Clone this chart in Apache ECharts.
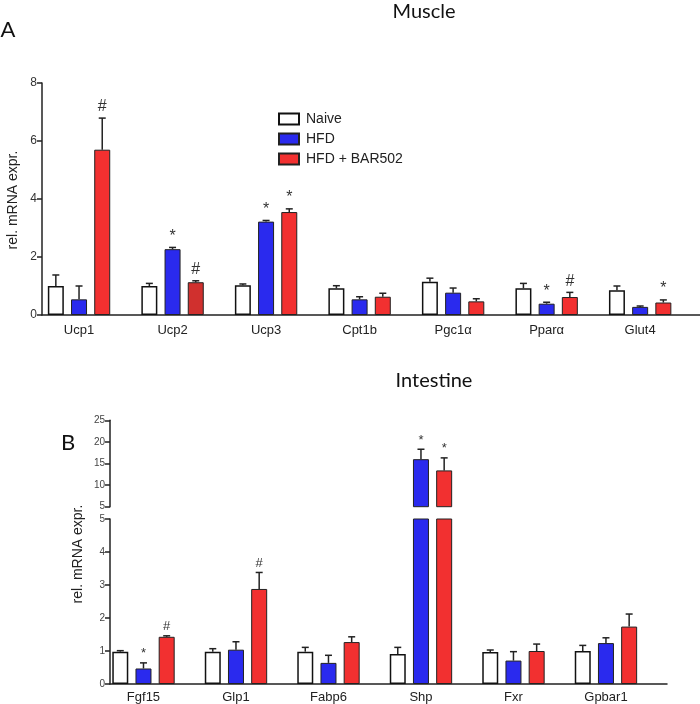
<!DOCTYPE html>
<html><head><meta charset="utf-8">
<script src="https://cdn.jsdelivr.net/npm/echarts@6/dist/echarts.min.js"></script>
<style>html,body{margin:0;padding:0;background:#fff}#c{width:700px;height:704px}</style>
</head><body><div id="c"></div>
<script>
// ---------- DATA ----------
const muscleGenes = ['Ucp1','Ucp2','Ucp3','Cpt1b','Pgc1α','Pparα','Glut4'];
const muscleNaive    = [1.00,1.00,1.03,0.92,1.15,0.92,0.85];
const muscleNaiveErr = [0.38,0.09,0.04,0.09,0.12,0.17,0.15];
const muscleHFD      = [0.54,2.27,3.22,0.54,0.77,0.39,0.28];
const muscleHFDErr   = [0.46,0.06,0.04,0.09,0.16,0.05,0.03];
const muscleBAR      = [5.70,1.13,3.55,0.63,0.47,0.62,0.43];
const muscleBARErr   = [1.09,0.05,0.11,0.12,0.09,0.16,0.09];
const muscleNaiveMarks = ['','','','','','',''];
const muscleHFDMarks = ['','*','*','','','*',''];
const muscleBARMarks = ['#','#','*','','','#','*'];

const intestineGenes = ['Fgf15','Glp1','Fabp6','Shp','Fxr','Gpbar1'];
const intNaive    = [0.98,0.98,0.98,0.91,0.97,1.00];
const intNaiveErr = [0.03,0.09,0.13,0.20,0.06,0.17];
const intHFD      = [0.47,1.04,0.64,16.0,0.71,1.24];
const intHFDErr   = [0.17,0.24,0.23,2.3,0.27,0.16];
const intBAR      = [1.43,2.88,1.27,13.4,1.00,1.74];
const intBARErr   = [0.03,0.50,0.16,2.9,0.21,0.38];
const intNaiveMarks = ['','','','','',''];
const intHFDMarks = ['*','','','*','',''];
const intBARMarks = ['#','#','','*','',''];

const seriesNames = ['Naive','HFD','HFD + BAR502'];
const muscleTicks = [0,2,4,6,8];
const intLowTicks = [0,1,2,3,4,5];
const intHighTicks = [5,10,15,20,25];

// ---------- STYLE ----------
const COLORS = ['#ffffff','#2a2aee','#f23030'];
const BORDERS = ['#111','#222','#222'];
const BW = 16, GAP = 7.2, OFFS = [-(BW+GAP), 0, BW+GAP];
const FONT = '"Liberation Sans", Arial, sans-serif';
const TITLEFONT = 'Lato, "Open Sans", sans-serif';
const BREAK = intHighTicks[0];

const chart = echarts.init(document.getElementById('c'), null, {renderer:'canvas'});

function barSeries(name, k, vals, xi, yi, filter, itemColors) {
  return {
    type:'bar', name, xAxisIndex:xi, yAxisIndex:yi, barWidth:BW, barGap:(GAP/BW*100)+'%',
    clip:true, animation:false,
    itemStyle:{color:COLORS[k], borderColor:BORDERS[k], borderWidth:k===0?1.5:1},
    data: vals.map((v,i)=> filter(v) ? (itemColors && itemColors[i] ? {value:[i,v], itemStyle:{color:itemColors[i]}} : [i,v]) : null).filter(d=>d!==null)
  };
}
function errSeries(k, vals, errs, marks, xi, yi, filter, fs, markGap) {
  return {
    type:'custom', xAxisIndex:xi, yAxisIndex:yi, clip:false, animation:false, silent:true, z:5,
    data: vals.map((v,i)=> filter(v) ? [i,v,errs[i]] : null).filter(d=>d!==null),
    renderItem(params, api){
      const i = api.value(0), v = api.value(1), e = api.value(2);
      const b = api.coord([i, v]); const t = api.coord([i, v+e]);
      const cx = b[0] + OFFS[k];
      const children = [
        {type:'line', shape:{x1:cx,y1:b[1],x2:cx,y2:t[1]}, style:{stroke:'#222', lineWidth:1.5}},
        {type:'line', shape:{x1:cx-3.5,y1:t[1],x2:cx+3.5,y2:t[1]}, style:{stroke:'#222', lineWidth:1.5}}
      ];
      const m = marks[i];
      if (m) children.push({type:'text', x:cx, y:t[1]-markGap, style:{text:m, align:'center', verticalAlign:'middle', fontSize:fs, fill:'#333', fontFamily:FONT}});
      return {type:'group', children};
    }
  };
}

const series = [];
const mVals = [muscleNaive, muscleHFD, muscleBAR];
const mErrs = [muscleNaiveErr, muscleHFDErr, muscleBARErr];
const mMarks = [muscleNaiveMarks, muscleHFDMarks, muscleBARMarks];
const iVals = [intNaive, intHFD, intBAR];
const iErrs = [intNaiveErr, intHFDErr, intBARErr];
const iMarks = [intNaiveMarks, intHFDMarks, intBARMarks];
const all = ()=>true;
const redShade = [null,'#d0302e',null,null,null,null,null];
for (let k=0;k<3;k++){
  series.push(barSeries(seriesNames[k], k, mVals[k], 0, 0, all, k===2?redShade:null));
  series.push(barSeries(seriesNames[k], k, iVals[k], 1, 1, all));
  series.push(barSeries(seriesNames[k], k, iVals[k], 2, 2, v=>v>BREAK));
}
for (let k=0;k<3;k++){
  series.push(errSeries(k, mVals[k], mErrs[k], mMarks[k], 0, 0, all, 16, 11));
  series.push(errSeries(k, iVals[k], iErrs[k], iMarks[k], 1, 1, v=>v<=BREAK, 13, 9));
  series.push(errSeries(k, iVals[k], iErrs[k], iMarks[k], 2, 2, v=>v>BREAK, 13, 9));
}

const axisLine = {show:true, onZero:false, lineStyle:{color:'#222', width:1.5}};
const yTick = {show:true, length:5, lineStyle:{color:'#222', width:1.5}};

const option = {
  animation:false,
  backgroundColor:'#fff',
  grid:[
    {left:42, right:0, top:83, height:232},
    {left:110, width:557, top:519, height:165.5},
    {left:110, width:557, top:420.3, height:86.4}
  ],
  xAxis:[
    {type:'value', gridIndex:0, min:-0.396, max:6.64, splitLine:{show:false}, axisTick:{show:false}, axisLine,
     axisLabel:{customValues:muscleGenes.map((g,i)=>i), formatter:v=>muscleGenes[Math.round(v)], color:'#222', fontSize:13, fontFamily:FONT, margin:9}},
    {type:'value', gridIndex:1, min:-0.362, max:5.66, splitLine:{show:false}, axisTick:{show:false}, axisLine,
     axisLabel:{customValues:intestineGenes.map((g,i)=>i), formatter:v=>intestineGenes[Math.round(v)], color:'#222', fontSize:13, fontFamily:FONT, margin:7}},
    {type:'value', gridIndex:2, min:-0.362, max:5.66, show:false}
  ],
  yAxis:[
    {type:'value', gridIndex:0, min:muscleTicks[0], max:muscleTicks[muscleTicks.length-1], interval:muscleTicks[1]-muscleTicks[0],
     splitLine:{show:false}, axisLine, axisTick:yTick, axisLabel:{color:'#333', fontSize:12, fontFamily:FONT, margin:5}},
    {type:'value', gridIndex:1, min:intLowTicks[0], max:intLowTicks[intLowTicks.length-1], interval:intLowTicks[1]-intLowTicks[0],
     splitLine:{show:false}, axisLine, axisTick:yTick, axisLabel:{color:'#444', fontSize:10, fontFamily:FONT, margin:5}},
    {type:'value', gridIndex:2, min:intHighTicks[0], max:intHighTicks[intHighTicks.length-1], interval:intHighTicks[1]-intHighTicks[0],
     splitLine:{show:false}, axisLine, axisTick:yTick, axisLabel:{color:'#444', fontSize:10, fontFamily:FONT, margin:5}}
  ],
  legend:{
    data:seriesNames, orient:'vertical', left:273, top:107, itemWidth:20, itemHeight:11, itemGap:6,
    icon:'rect', selectedMode:false,
    textStyle:{fontSize:14, lineHeight:14, color:'#222', fontFamily:FONT, padding:[0,0,0,2]}
  },
  graphic:[
    {type:'text', x:424, y:12, style:{text:'Muscle', font:'20px '+TITLEFONT, fill:'#111', align:'center', verticalAlign:'middle'}},
    {type:'text', x:8, y:30, style:{text:'A', font:'22px '+TITLEFONT, fill:'#111', align:'center', verticalAlign:'middle'}},
    {type:'text', x:434, y:381, style:{text:'Intestine', font:'20px '+TITLEFONT, fill:'#111', align:'center', verticalAlign:'middle'}},
    {type:'text', x:68, y:443, style:{text:'B', font:'22px '+TITLEFONT, fill:'#111', align:'center', verticalAlign:'middle'}},
    {type:'text', x:13, y:200, rotation:Math.PI/2, style:{text:'rel. mRNA expr.', font:'14px '+FONT, fill:'#222', align:'center', verticalAlign:'middle'}},
    {type:'text', x:78, y:554, rotation:Math.PI/2, style:{text:'rel. mRNA expr.', font:'14px '+FONT, fill:'#222', align:'center', verticalAlign:'middle'}}
  ],
  series
};
chart.setOption(option);
</script>
</body></html>
